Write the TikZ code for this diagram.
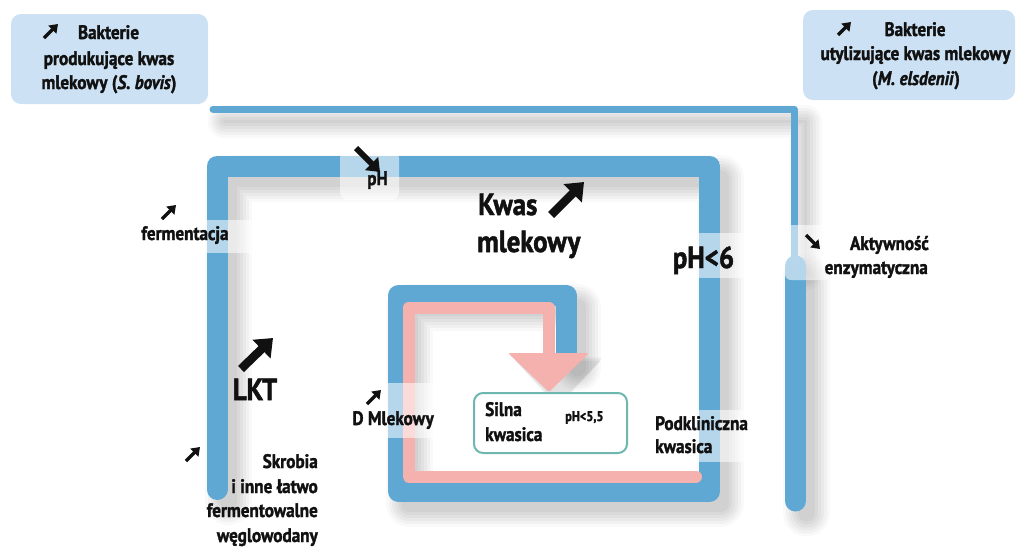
\documentclass[tikz,border=0pt]{standalone}
\usepackage{fontspec}
\setmainfont{PT Sans}[FakeStretch=0.88, BoldFeatures={FakeBold=1.6}, BoldItalicFeatures={FakeBold=1.6}]
\usetikzlibrary{arrows.meta}
\definecolor{lineblue}{HTML}{5FA8D3}
\definecolor{boxblue}{HTML}{CCE1F3}
\definecolor{pinkline}{HTML}{F5B1AE}
\definecolor{tealbox}{HTML}{6DB7AF}
\definecolor{txt}{HTML}{111111}
\newcommand\softshadow[2]{%
  \foreach \e/\o in {26/0.025,20/0.03,14/0.03,8/0.035,2/0.035,-4/0.035}{%
    \draw[black, opacity=\o, line width={(#1+\e)*1pt}, line join=round, line cap=round, shift={(11,12)}] #2;}}
\tikzset{
  lbl/.style={font=\fontsize{19.5}{23}\selectfont\bfseries, inner sep=0pt, text=txt},
  bigl/.style={font=\fontsize{30.5}{35}\selectfont\bfseries, inner sep=0pt, text=txt},
  smalll/.style={font=\fontsize{14}{16}\selectfont\bfseries, inner sep=0pt, text=txt},
  infobox/.style={rectangle, rounded corners=10pt, fill=boxblue, draw=none},
  thickline/.style={lineblue, line width=21pt, line join=round, line cap=round},
  thinline/.style={lineblue, line width=7pt, line join=round, line cap=round},
  pinkpath/.style={pinkline, line width=12pt, line join=round, line cap=round},
  patch/.style={fill=white, fill opacity=0.55, draw=none},
  iconsmall/.style={txt, line width=3.5pt, -{Triangle[length=8pt, width=11pt]}},
  iconbig/.style={txt, line width=8.5pt, -{Triangle[length=16pt, width=25pt]}},
  iconmid/.style={txt, line width=6pt, -{Triangle[length=12pt, width=18pt]}},
}
\begin{document}
\begin{tikzpicture}[x=1pt, y=-1pt]
\useasboundingbox (0,0) rectangle (1019,549);

% shadows
\softshadow{7}{(213,109) -- (794,109) -- (794,262)}
\softshadow{21}{(217,489.5) -- (217,166) -- (709.5,166) -- (709.5,491.5) -- (398.5,491.5) -- (398.5,295.5) -- (566.5,295.5) -- (566.5,356)}
\softshadow{21}{(795.5,266) -- (795.5,501)}
\foreach \o in {1,2,3}{\fill[black, opacity=0.04, shift={(10,10)}, rounded corners=\o*2pt] (508-\o*2,353-\o*2) -- (588+\o*2,353-\o*2) -- (548,392+\o*2) -- cycle;}

% lines
\draw[thinline] (213,109) -- (794,109) -- (794,262);
\draw[thickline] (795.5,266) -- (795.5,501);
\draw[thickline] (217,489.5) -- (217,166) -- (709.5,166) -- (709.5,491.5) -- (398.5,491.5) -- (398.5,295.5) -- (566.5,295.5) -- (566.5,356);
\draw[pinkpath] (696,476.5) -- (408.5,476.5) -- (408.5,307.5) -- (549,307.5) -- (549,356);
\fill[pinkline, rounded corners=2pt] (508,353) -- (589,353) -- (549,392) -- cycle;

% label patches
\fill[patch, rounded corners=8pt] (340,150) rectangle (399,200);
\fill[patch] (140,220) rectangle (262,253);
\fill[patch] (665,233) rectangle (760,278);
\fill[patch] (345,383) rectangle (450,438);
\fill[patch] (650,410) rectangle (765,462);
\fill[patch, rounded corners=6pt] (785,225) rectangle (830,280);

% info boxes
\node[infobox, minimum width=197pt, minimum height=90pt] (boxL) at (109.5,59) {};
\node[infobox, minimum width=212pt, minimum height=90pt] (boxR) at (909,55) {};
\node[rectangle, rounded corners=9pt, draw=tealbox, line width=2pt, fill=white, minimum width=153pt, minimum height=60pt] (silnabox) at (550.5,423) {};

% texts
\node[lbl, anchor=base] (tL1) at (108.5,39) {Bakterie};
\node[lbl, anchor=base] (tL2) at (109,65) {produkujące kwas};
\node[lbl, anchor=base] (tL3) at (109,89) {mlekowy (\textit{S. bovis})};
\node[lbl, anchor=base] (tR1) at (915,36) {Bakterie};
\node[lbl, anchor=base] (tR2) at (915.5,60) {utylizujące kwas mlekowy};
\node[lbl, anchor=base] (tR3) at (916,85) {(\textit{M. elsdenii})};

\node[lbl, anchor=base] (ferm) at (185,240) {fermentacja};
\node[lbl, anchor=base] (phtop) at (377.5,185) {pH};
\node[bigl, anchor=base west] (kwas) at (478,215) {Kwas};
\node[bigl, anchor=base west] (mlek) at (477,252) {mlekowy};
\node[bigl, anchor=base] (ph6) at (703.5,268) {pH<6};
\node[bigl, anchor=base] (lkt) at (255,400) {LKT};
\node[lbl, anchor=base east] (dmlek) at (434,425) {D Mlekowy};
\node[lbl, anchor=base west] (silna1) at (485,416) {Silna};
\node[lbl, anchor=base west] (silna2) at (485,441) {kwasica};
\node[smalll, anchor=base west] (ph55) at (565,421) {pH<5,5};
\node[lbl, anchor=base west] (pod1) at (655,430) {Podkliniczna};
\node[lbl, anchor=base west] (pod2) at (655,453) {kwasica};
\node[lbl, anchor=base east] (skr1) at (318,468) {Skrobia};
\node[lbl, anchor=base east] (skr2) at (318,493) {i inne łatwo};
\node[lbl, anchor=base east] (skr3) at (318,517) {fermentowalne};
\node[lbl, anchor=base east] (skr4) at (318,542) {węglowodany};
\node[lbl, anchor=base east] (akt1) at (929,250) {Aktywność};
\node[lbl, anchor=base east] (akt2) at (928,274) {enzymatyczna};

% arrow icons
\draw[iconsmall] (44,38) -- (58,24);
\draw[iconsmall] (838,35) -- (851,22);
\draw[iconsmall] (162,219) -- (176,205);
\draw[iconmid] (356,148) -- (380,172);
\draw[iconbig] (551,215) -- (584,182);
\draw[iconbig] (241,369) -- (273,338);
\draw[iconsmall] (367,404) -- (381,390);
\draw[iconsmall] (186,461) -- (200,447);
\draw[iconsmall] (806,235) -- (820,249);
\end{tikzpicture}
\end{document}
